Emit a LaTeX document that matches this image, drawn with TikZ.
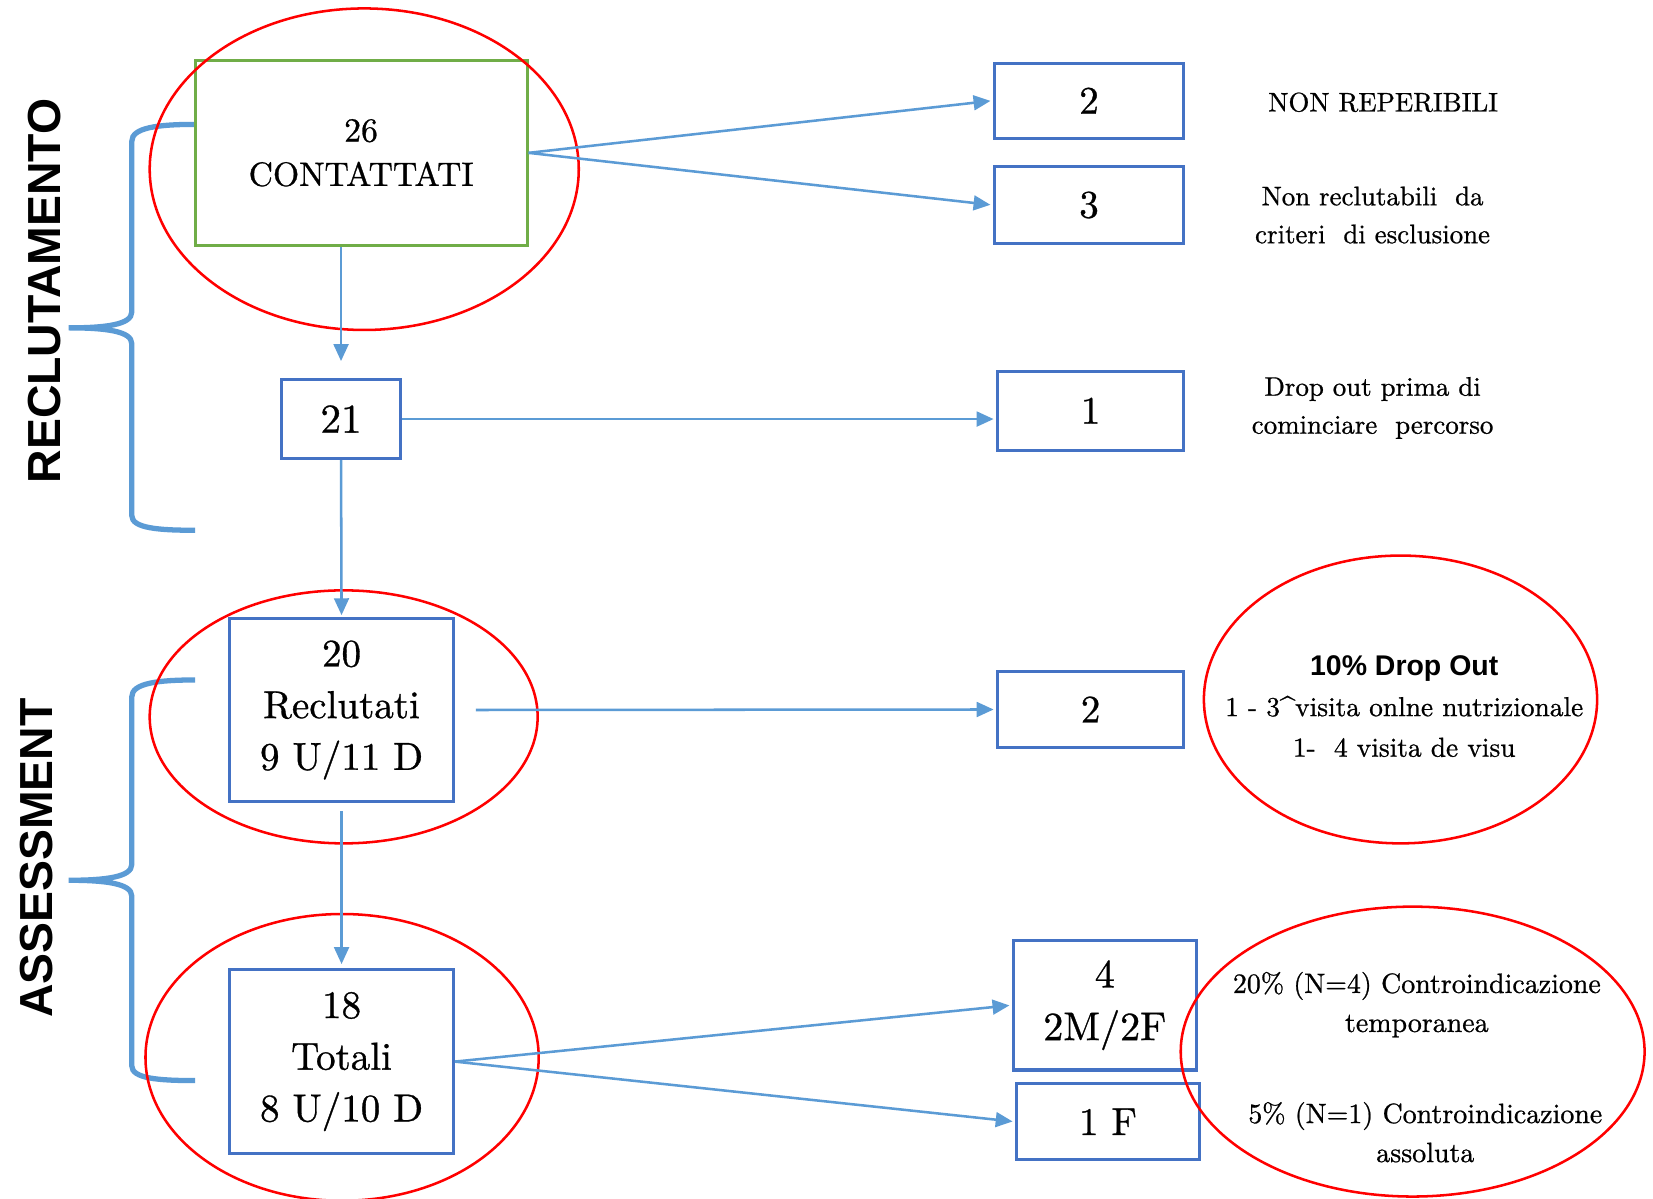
\documentclass[tikz,border=0pt]{standalone}
\usepackage{fontspec}
\newfontfamily\lsans{Liberation Sans}
\newfontfamily\garam{lmroman10-regular.otf}[FakeBold=0.8]
\usetikzlibrary{shapes.geometric,arrows.meta}
\definecolor{boxblue}{HTML}{4472C4}
\definecolor{arrblue}{HTML}{5B9BD5}
\definecolor{boxgreen}{HTML}{70AD47}
\tikzset{
  bbox/.style={draw=boxblue, line width=3, inner sep=0, align=center, font=\garam\fontsize{37}{49}\selectfont},
  arr/.style={draw=arrblue, line width=2.4, -{Triangle[length=16,width=14]}, shorten >=2},
  redell/.style={ellipse, draw=red, line width=2.4, inner sep=0},
  brc/.style={draw=arrblue, line width=5},
  lbl/.style={align=center, inner sep=0, font=\garam\fontsize{25.5}{36}\selectfont},
  sidelbl/.style={rotate=90, inner sep=0, font=\lsans\bfseries\fontsize{44}{50}\selectfont},
}
\begin{document}
\begin{tikzpicture}[x=1pt,y=-1pt]
\useasboundingbox (0,0) rectangle (1568,1137);
\fill[white] (0,0) rectangle (1568,1137);

% side labels
\node[sidelbl] (lr) at (42,276) {RECLUTAMENTO};
\node[sidelbl] (la) at (35,814) {ASSESSMENT};

% braces
\draw[brc] (185,118) .. controls (150,118) and (125,121) .. (125,134) -- (125,296)
  .. controls (125,308) and (100,311) .. (65,311)
  .. controls (100,311) and (125,314) .. (125,326) -- (125,489)
  .. controls (125,501) and (150,503) .. (185,503);
\draw[brc] (185,645) .. controls (150,645) and (125,648) .. (125,661) -- (125,820)
  .. controls (125,832) and (100,835) .. (65,835)
  .. controls (100,835) and (125,838) .. (125,850) -- (125,1011)
  .. controls (125,1023) and (150,1025) .. (185,1025);

% boxes
\node[draw=boxgreen, line width=2.8, minimum width=315, minimum height=176, inner sep=0, align=center, font=\garam\fontsize{32}{42}\selectfont] (g) at (342.5,145) {26\\CONTATTATI};
\node[bbox, minimum width=113, minimum height=75, font=\garam\fontsize{39}{49}\selectfont] (b21) at (323.5,397.5) {21};
\node[bbox, minimum width=180, minimum height=71] (b2) at (1033,95.5) {2};
\node[bbox, minimum width=180, minimum height=73] (b3) at (1033,194.5) {3};
\node[bbox, minimum width=177, minimum height=75] (b1) at (1034.5,389.5) {1};
\node[bbox, minimum width=212, minimum height=173] (b20) at (324,673.5) {20\\Reclutati\\9 U/11 D};
\node[bbox, minimum width=177, minimum height=72] (b2b) at (1034.5,673) {2};
\node[bbox, minimum width=212, minimum height=174] (b18) at (324,1007) {18\\Totali\\8 U/10 D};
\node[bbox, minimum width=174, minimum height=123, font=\garam\fontsize{38}{50}\selectfont] (b4) at (1048,953.5) {4\\2M/2F};
\node[bbox, minimum width=174, minimum height=72] (b1f) at (1051,1064) {1 F};

% right texts
\node[lbl] (t1) at (1312,97) {NON REPERIBILI};
\node[lbl] (t2) at (1302,204) {Non reclutabili\ \ da\\criteri\ \ di esclusione};
\node[lbl] (t3) at (1302,387) {Drop out prima di\\cominciare\ \ percorso};
\node[lbl, font=\garam\fontsize{26}{38.5}\selectfont] (t4) at (1332,670) {{\lsans\bfseries\fontsize{27}{38.5}\selectfont 10\% Drop Out}\\1 - 3\textasciicircum visita onlne nutrizionale\\1-\ \ 4 visita de visu};
\node[lbl, font=\garam\fontsize{26.5}{37}\selectfont] (t5) at (1344,953) {20\% (N=4) Controindicazione\\temporanea};
\node[lbl, font=\garam\fontsize{26.5}{37}\selectfont] (t6) at (1352,1074) {5\% (N=1) Controindicazione\\assoluta};

% ellipses
\node[redell, minimum width=407, minimum height=305] (e1) at (345.5,160.5) {};
\node[redell, minimum width=368, minimum height=240] (e2) at (326,680) {};
\node[redell, minimum width=373, minimum height=273] (e3) at (1328.5,663.5) {};
\node[redell, minimum width=373, minimum height=272] (e4) at (324.5,1003) {};
\node[redell, minimum width=440, minimum height=275] (e5) at (1340,997.5) {};

% arrows
\draw[arr] (g.east) -- (b2.west);
\draw[arr] (g.east) -- (b3.west);
\draw[arr, shorten >=16] (g.south -| b21.north) -- (b21.north);
\draw[arr] (b21.east) -- (b1.west |- b21.east);
\draw[arr] (b21.south) -- (b20.north);
\draw[arr, shorten <=20] (b20.east) -- (b2b.west);
\draw[arr, shorten <=8, shorten >=4] (b20.south) -- (b18.north);
\draw[arr] (b18.east) -- (b4.west);
\draw[arr] (b18.east) -- (b1f.west);
\end{tikzpicture}
\end{document}
